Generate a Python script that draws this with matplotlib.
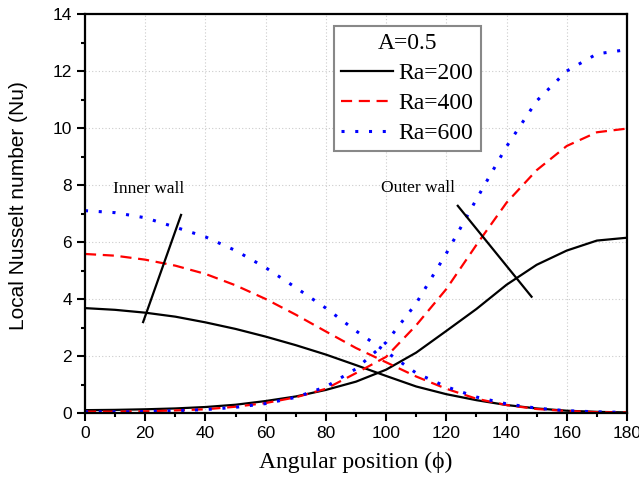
import matplotlib
matplotlib.use("Agg")
import matplotlib.pyplot as plt
import numpy as np

# ---------------- data ----------------
angle = [0, 10, 20, 30, 40, 50, 60, 70, 80, 90, 100, 110, 120, 130, 140, 150, 160, 170, 180]

# inner wall (decreasing)
inner_ra200 = [3.68, 3.62, 3.52, 3.38, 3.18, 2.95, 2.68, 2.38, 2.05, 1.68, 1.30, 0.93, 0.66, 0.45, 0.28, 0.16, 0.08, 0.04, 0.02]
inner_ra400 = [5.58, 5.52, 5.38, 5.17, 4.88, 4.48, 4.00, 3.45, 2.86, 2.28, 1.78, 1.28, 0.85, 0.50, 0.28, 0.14, 0.07, 0.03, 0.02]
inner_ra600 = [7.10, 7.03, 6.85, 6.52, 6.18, 5.70, 5.10, 4.40, 3.68, 2.88, 2.15, 1.40, 0.92, 0.56, 0.32, 0.17, 0.08, 0.04, 0.02]

# outer wall (increasing)
outer_ra200 = [0.10, 0.11, 0.13, 0.16, 0.21, 0.29, 0.42, 0.58, 0.81, 1.10, 1.52, 2.12, 2.88, 3.65, 4.50, 5.20, 5.70, 6.05, 6.15]
outer_ra400 = [0.05, 0.05, 0.06, 0.09, 0.13, 0.22, 0.35, 0.55, 0.85, 1.40, 1.97, 3.08, 4.35, 5.90, 7.38, 8.52, 9.37, 9.85, 9.98]
outer_ra600 = [0.04, 0.04, 0.05, 0.08, 0.12, 0.20, 0.33, 0.55, 0.92, 1.55, 2.48, 3.85, 5.60, 7.50, 9.35, 10.95, 12.00, 12.60, 12.75]

labels = ["Ra=200", "Ra=400", "Ra=600"]
legend_title = "A=0.5"
xticks = [0, 20, 40, 60, 80, 100, 120, 140, 160, 180]
yticks = [0, 2, 4, 6, 8, 10, 12, 14]

# ---------------- figure ----------------
SERIF = ["Liberation Serif", "DejaVu Serif"]
SANS = ["Liberation Sans", "DejaVu Sans"]

fig = plt.figure(figsize=(6.39, 4.88), dpi=100)
ax = fig.add_axes([85/639, 1-413/488, 542/639, 399/488])

styles = [
    dict(color="black", linestyle="-", linewidth=1.6),
    dict(color="red", linestyle=(0, (5, 3)), linewidth=1.6),
    dict(color="blue", linestyle=(0, (1, 3.5)), linewidth=2.2),
]
inner = [inner_ra200, inner_ra400, inner_ra600]
outer = [outer_ra200, outer_ra400, outer_ra600]
handles = []
for i in range(3):
    h, = ax.plot(angle, inner[i], label=labels[i], **styles[i])
    ax.plot(angle, outer[i], **styles[i])
    handles.append(h)

ax.set_xlim(0, 180)
ax.set_ylim(0, 14)
ax.set_xticks(xticks)
ax.set_yticks(yticks)
ax.set_xticks(np.arange(10, 180, 20), minor=True)
ax.set_yticks(np.arange(1, 14, 2), minor=True)
ax.tick_params(which="major", direction="out", length=6, width=1.5, pad=3.5,
               labelsize=12.5, top=False, right=False)
ax.tick_params(which="minor", direction="out", length=3, width=1.5, top=False, right=False)
for lab in ax.get_xticklabels() + ax.get_yticklabels():
    lab.set_fontfamily(SANS)
for sp in ax.spines.values():
    sp.set_linewidth(1.6)

ax.grid(True, which="major", color="#cccccc", linestyle=(0, (1, 2)), linewidth=0.8)
ax.set_axisbelow(True)

ax.set_xlabel("Angular position (ϕ)", fontsize=17, family=SERIF, labelpad=8)
ax.set_ylabel("Local Nusselt number (Nu)", fontsize=15, family=SANS)
ax.yaxis.set_label_coords(-0.105, 0.519)

# annotations
ax.text(21, 7.86, "Inner wall", fontsize=12.5, family=SERIF, ha="center", va="center")
ax.plot([19.3, 31.9], [3.19, 6.95], color="black", linewidth=1.6)
ax.text(110.6, 7.9, "Outer wall", fontsize=12.5, family=SERIF, ha="center", va="center")
ax.plot([123.8, 148.3], [7.27, 4.08], color="black", linewidth=1.6)

leg = ax.legend(handles=handles, title=legend_title, loc="upper left",
                bbox_to_anchor=(0.459, 0.970), fancybox=False, framealpha=1,
                edgecolor="#888888", prop={"family": SERIF, "size": 17},
                title_fontproperties={"family": SERIF, "size": 17},
                handlelength=2.2, handletextpad=0.25, labelspacing=0.36,
                borderpad=0.3, borderaxespad=0)
leg.get_frame().set_linewidth(1.5)

fig.savefig("out.png", dpi=100)
